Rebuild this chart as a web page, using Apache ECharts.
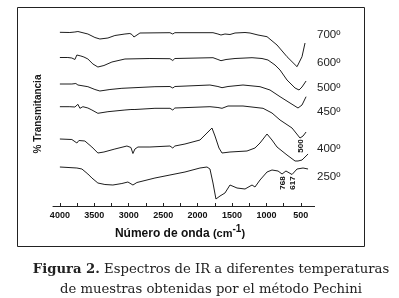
<!DOCTYPE html>
<html>
<head>
<meta charset="utf-8">
<script src="https://cdn.jsdelivr.net/npm/echarts@6/dist/echarts.min.js"></script>
<style>
html, body { margin: 0; padding: 0; background: #fff; }
#container { width: 399px; height: 298px; }
</style>
</head>
<body>
<div id="container"></div>
<script>
// espectros IR, [numero de onda, transmitancia relativa]
var s700 = [[4000,173.7],[3855,173.5],[3782,174],[3738,174.5],[3709,173.5],[3593,172],[3491,168.5],[3419,167],[3302,168],[3201,170.5],[3055,172],[2983,172.5],[2953,171.5],[2924,169],[2895,171],[2837,173],[2401,173.3],[2360,172],[2330,173.3],[1776,173.3],[1704,172],[1660,171],[1602,172],[1529,171.5],[1456,173],[1311,173.5],[1238,173],[1122,171],[991,169.3],[846,161],[701,149.3],[555,139.3],[483,149.3],[439,163]];
var s600 = [[4000,148.5],[3884,148.5],[3826,148],[3782,146.5],[3753,151],[3724,152.5],[3695,150],[3651,149],[3593,147],[3520,142],[3448,139],[3360,140.5],[3244,144],[3055,147],[2692,147.5],[2401,147.3],[2360,145.5],[2330,147.5],[1776,148.3],[1704,146.5],[1660,145.3],[1587,146.5],[1456,147.5],[1209,148.3],[1064,147.5],[977,146],[875,141],[802,136],[701,126],[584,118],[526,116],[483,119],[424,125]];
var s500 = [[4000,122],[3826,122],[3768,122.5],[3738,121],[3709,121.7],[3593,119.3],[3491,116.5],[3419,115],[3273,116.5],[3099,117.7],[2619,119.3],[2401,119.5],[2360,118],[2330,119.5],[1820,121],[1704,119.5],[1645,118.3],[1558,119.5],[1340,121],[1093,119.3],[948,116],[802,109.3],[657,103],[541,98],[483,101],[424,109.3]];
var s450 = [[4000,99.3],[3855,99.3],[3782,99],[3738,101.7],[3709,97.7],[3666,99.3],[3593,98],[3535,96],[3448,92.7],[3302,94.3],[3055,96],[2968,96.5],[2939,95],[2910,96.5],[2619,97.7],[2401,97.7],[2360,96],[2330,98],[1820,99.3],[1704,98.5],[1645,97.7],[1558,100],[1340,100],[1049,97.7],[919,93],[802,86],[628,78],[512,68],[468,70],[424,74]];
var s400 = [[4000,67],[3826,66.5],[3753,63],[3724,65.5],[3637,65],[3535,59],[3448,53],[3360,54],[3201,57],[3026,60],[2968,58.5],[2939,52.5],[2910,57],[2866,59],[2692,59],[2401,60],[2360,58],[2330,60],[2183,62],[1965,66],[1863,73],[1791,78],[1747,70],[1689,58],[1645,53],[1529,54],[1282,55],[1166,58],[1093,63],[991,72],[919,66],[846,59],[701,51],[584,45],[541,45],[512,43.5],[483,46],[454,44],[395,52]];
var s250 = [[4000,39],[3753,38],[3680,37],[3593,32],[3535,28],[3448,23],[3346,21.5],[3230,21],[3099,22.5],[3012,24],[2939,21],[2881,23.5],[2619,28],[2401,31],[2183,34],[1965,38],[1863,39],[1820,37],[1776,23],[1733,7],[1674,10],[1602,13],[1529,21],[1500,23],[1427,18],[1311,17],[1209,21],[1166,19],[1093,26],[991,34],[919,36],[831,35],[773,32],[716,35],[628,31.5],[555,37],[468,38],[395,37]];

var temperaturas = ['700º', '600º', '500º', '450º', '400º', '250º'];
var tempLabelY = [35, 63, 88, 112, 149, 177];
var tickLabels = [4000, 3500, 3000, 2500, 2000, 1500, 1000, 500];
var tickMarks = [4000, 3750, 3500, 3250, 3000, 2750, 2500, 2250, 2000, 1750, 1500, 1250, 1000, 750, 500];
// bandas marcadas: [numero de onda, altura de la etiqueta, serie]
var bandas = [[768, 23, '250º'], [617, 23, '250º'], [500, 60, '400º']];

var dom = document.getElementById("container");
var myChart = echarts.init(dom);

var datos = [s700, s600, s500, s450, s400, s250];
var lineColor = '#1e1e1e';

var series = datos.map(function (d, i) {
    var marks = bandas.filter(function (b) { return b[2] === temperaturas[i]; }).map(function (b) {
        return { coord: [b[0], b[1]], value: String(b[0]) };
    });
    return {
        name: temperaturas[i],
        type: 'line',
        data: d,
        showSymbol: false,
        silent: true,
        lineStyle: { color: lineColor, width: 1 },
        markPoint: marks.length ? {
            symbol: 'rect',
            symbolSize: 1,
            itemStyle: { color: 'rgba(0,0,0,0)' },
            silent: true,
            data: marks,
            label: {
                show: true,
                position: 'inside',
                rotate: 90,
                color: '#111',
                fontFamily: 'Liberation Sans',
                fontWeight: 'bold',
                fontSize: 8,
                formatter: '{c}'
            }
        } : undefined
    };
});

var graphics = [
    {
        type: 'rect',
        shape: { x: 17.5, y: 7.5, width: 347, height: 239 },
        style: { fill: 'none', stroke: '#222', lineWidth: 1 },
        silent: true
    },
    {
        type: 'text',
        x: 38, y: 114,
        rotation: Math.PI / 2,
        style: {
            text: '% Transmitancia',
            fill: '#1a1a1a',
            font: 'bold 10px "Liberation Sans"',
            align: 'center',
            verticalAlign: 'middle'
        }
    },
    {
        type: 'text',
        x: 180, y: 234,
        style: {
            text: '{a|Número de onda }{c|(cm}{b|-1}{c|)}',
            align: 'center',
            verticalAlign: 'middle',
            rich: {
                a: { font: 'bold 12px "Liberation Sans"', fill: '#111' },
                c: { font: 'bold 11px "Liberation Sans"', fill: '#111' },
                b: { font: 'bold 10px "Liberation Sans"', fill: '#111', verticalAlign: 'top', padding: [0, 0, 9, 0] }
            }
        }
    },
    {
        type: 'text',
        x: 211, y: 270,
        style: {
            text: '{b|Figura 2.} Espectros de IR a diferentes temperaturas',
            font: '13.2px "DejaVu Serif"',
            fill: '#222',
            align: 'center',
            verticalAlign: 'middle',
            rich: { b: { font: 'bold 13.2px "DejaVu Serif"', fill: '#222' } }
        }
    },
    {
        type: 'text',
        x: 211, y: 290,
        style: {
            text: 'de muestras obtenidas por el método Pechini',
            font: '13.2px "DejaVu Serif"',
            fill: '#222',
            align: 'center',
            verticalAlign: 'middle'
        }
    }
];

temperaturas.forEach(function (t, i) {
    graphics.push({
        type: 'text',
        x: 317, y: tempLabelY[i],
        style: {
            text: t,
            font: '11.5px "Liberation Sans"',
            fill: '#222',
            align: 'left',
            verticalAlign: 'middle'
        }
    });
});

option = {
    animation: false,
    backgroundColor: '#fff',
    grid: { left: 53, right: 84.4, top: 20, bottom: 92 },
    xAxis: {
        type: 'value',
        inverse: true,
        min: 300,
        max: 4100,
        axisLine: { show: true, lineStyle: { color: '#222', width: 1 } },
        axisTick: {
            show: true,
            inside: true,
            length: 3,
            customValues: tickMarks,
            lineStyle: { color: '#222' }
        },
        axisLabel: {
            customValues: tickLabels,
            margin: 5,
            color: '#111',
            fontFamily: 'Liberation Sans',
            fontWeight: 'bold',
            fontSize: 9,
            formatter: function (v) { return String(v); }
        },
        splitLine: { show: false }
    },
    yAxis: {
        type: 'value',
        min: 0,
        max: 186,
        show: false
    },
    graphic: graphics,
    series: series
};

window.onresize = function() {
    myChart.resize();
};
if (option && typeof option === "object") {
    myChart.setOption(option, true);
}
</script>
</body>
</html>
